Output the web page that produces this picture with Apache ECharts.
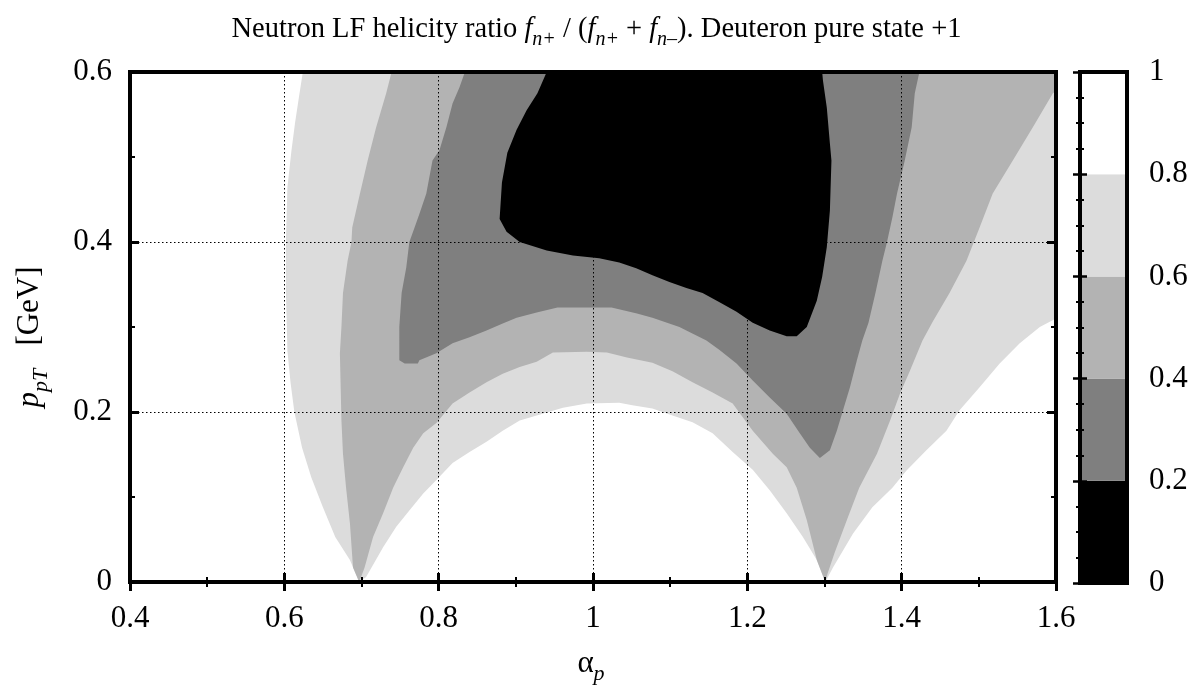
<!DOCTYPE html>
<html>
<head>
<meta charset="utf-8">
<script src="https://cdn.jsdelivr.net/npm/echarts@6/dist/echarts.min.js"></script>
<style>html,body{margin:0;padding:0;background:#fff}#c{width:1193px;height:686px}</style>
</head>
<body>
<div id="c"></div>
<script>
// ---- data ----
const levelBounds = [0, 0.2, 0.4, 0.6, 0.8, 1];
const levelColors = ['#000000', '#7f7f7f', '#b3b3b3', '#dcdcdc', '#ffffff'];

// region where ratio < 0.8 (light gray and darker)
const contour08 = [[0.624,0.600],[0.619,0.571],[0.614,0.541],[0.609,0.506],[0.604,0.464],[0.602,0.400],[0.602,0.343],[0.604,0.272],[0.608,0.235],[0.613,0.200],[0.623,0.158],[0.635,0.123],[0.650,0.088],[0.666,0.053],[0.685,0.026],[0.697,0.000],
[0.706,0.006],[0.728,0.041],[0.745,0.065],[0.762,0.084],[0.780,0.104],[0.797,0.120],[0.818,0.140],[0.840,0.153],[0.862,0.165],[0.883,0.178],[0.905,0.190],[0.927,0.196],[0.961,0.205],[0.992,0.210],[1.034,0.211],[1.051,0.208],[1.077,0.204],[1.103,0.196],[1.129,0.188],[1.155,0.175],[1.181,0.153],[1.207,0.132],[1.229,0.108],[1.251,0.081],[1.272,0.053],[1.290,0.026],[1.301,0.000],
[1.311,0.017],[1.337,0.057],[1.362,0.088],[1.388,0.111],[1.406,0.131],[1.432,0.155],[1.458,0.178],[1.475,0.202],[1.501,0.229],[1.527,0.257],[1.553,0.281],[1.579,0.300],[1.600,0.310],[1.600,0.600]];

// region where ratio < 0.6
const contour06 = [[0.739,0.600],[0.732,0.575],[0.719,0.535],[0.708,0.496],[0.698,0.457],[0.688,0.417],[0.687,0.400],[0.682,0.378],[0.676,0.340],[0.674,0.300],[0.672,0.269],[0.674,0.190],[0.676,0.151],[0.680,0.111],[0.685,0.069],[0.689,0.017],[0.697,0.000],
[0.704,0.017],[0.715,0.053],[0.728,0.081],[0.741,0.111],[0.754,0.135],[0.767,0.158],[0.780,0.175],[0.797,0.187],[0.818,0.210],[0.840,0.223],[0.862,0.235],[0.883,0.245],[0.905,0.253],[0.927,0.259],[0.948,0.270],[0.992,0.271],[1.018,0.270],[1.044,0.264],[1.077,0.258],[1.103,0.248],[1.129,0.235],[1.155,0.223],[1.181,0.210],[1.207,0.178],[1.233,0.151],[1.251,0.135],[1.264,0.111],[1.277,0.073],[1.290,0.026],[1.301,0.000],
[1.304,0.010],[1.313,0.034],[1.329,0.073],[1.345,0.111],[1.368,0.151],[1.385,0.190],[1.398,0.222],[1.411,0.249],[1.427,0.284],[1.440,0.306],[1.462,0.340],[1.484,0.378],[1.501,0.417],[1.518,0.457],[1.544,0.496],[1.570,0.535],[1.596,0.575],[1.600,0.578],[1.600,0.600]];

// region where ratio < 0.4
const contour04 = [[0.834,0.600],[0.827,0.582],[0.818,0.563],[0.810,0.535],[0.801,0.508],[0.792,0.496],[0.784,0.457],[0.775,0.433],[0.766,0.410],[0.762,0.400],[0.758,0.370],[0.752,0.340],[0.749,0.300],[0.749,0.261],[0.756,0.257],[0.773,0.257],[0.775,0.261],[0.797,0.269],[0.818,0.281],[0.840,0.288],[0.862,0.296],[0.883,0.304],[0.901,0.311],[0.927,0.317],[0.954,0.323],[1.024,0.323],[1.057,0.316],[1.077,0.311],[1.112,0.300],[1.121,0.296],[1.147,0.284],[1.164,0.273],[1.186,0.257],[1.207,0.237],[1.229,0.217],[1.251,0.198],[1.268,0.175],[1.281,0.158],[1.294,0.146],[1.307,0.155],[1.316,0.178],[1.324,0.202],[1.333,0.229],[1.342,0.261],[1.349,0.284],[1.357,0.305],[1.366,0.340],[1.375,0.378],[1.381,0.400],[1.388,0.429],[1.394,0.457],[1.404,0.496],[1.413,0.535],[1.417,0.575],[1.423,0.600]];

// region where ratio < 0.2
const contour02 = [[0.940,0.600],[0.928,0.575],[0.914,0.555],[0.901,0.532],[0.889,0.505],[0.882,0.470],[0.879,0.427],[0.888,0.412],[0.905,0.400],[0.940,0.390],[0.974,0.384],[1.008,0.381],[1.034,0.376],[1.056,0.369],[1.077,0.361],[1.099,0.353],[1.121,0.346],[1.142,0.340],[1.164,0.329],[1.186,0.318],[1.207,0.305],[1.229,0.296],[1.251,0.289],[1.264,0.289],[1.277,0.300],[1.290,0.331],[1.297,0.359],[1.303,0.394],[1.307,0.437],[1.309,0.496],[1.307,0.516],[1.303,0.558],[1.298,0.590],[1.297,0.600]];

const contours = [contour08, contour06, contour04, contour02];
const contourColors = [levelColors[3], levelColors[2], levelColors[1], levelColors[0]];

// ---- chart ----
const FONT = 'Liberation Serif';
const chart = echarts.init(document.getElementById('c'), null, {renderer: 'canvas'});

function polySeries(pts, color) {
  return {
    type: 'custom', xAxisIndex: 0, yAxisIndex: 0, z: 1, silent: true, clip: true,
    data: pts,
    renderItem: function (params, api) {
      if (params.dataIndex !== 0) return null;
      return {
        type: 'polygon',
        shape: {points: pts.map(p => api.coord(p))},
        style: {fill: color, stroke: null}
      };
    }
  };
}

const tickMajor = {show: true, inside: true, length: 9, lineStyle: {color: '#000', width: 3}};
const tickMinor = {show: true, splitNumber: 2, length: 5, lineStyle: {color: '#000', width: 2}};
const labelStyle = {color: '#000', fontFamily: FONT, fontSize: 31, showMinLabel: true, showMaxLabel: true};
const gridLine = {show: true, lineStyle: {type: [1.5, 2.5], color: '#000', width: 1}};

const bandData = levelColors.map((c, i) => [levelBounds[i], levelBounds[i + 1], i]);

const option = {
  animation: false,
  backgroundColor: '#fff',
  title: {
    left: 'center', top: 5,
    text: 'Neutron LF helicity ratio {i|f}{s|n+} / ({i|f}{s|n+} + {i|f}{s|n\u2013}). Deuteron pure state +1',
    textStyle: {
      fontFamily: FONT, fontSize: 28.5, fontWeight: 'normal', color: '#000', lineHeight: 40,
      rich: {
        i: {fontFamily: FONT, fontSize: 28.5, fontStyle: 'italic', color: '#000', lineHeight: 40},
        s: {fontFamily: FONT, fontSize: 20, fontStyle: 'italic', color: '#000', lineHeight: 20, verticalAlign: 'bottom'}
      }
    }
  },
  grid: [
    {left: 130, top: 72, width: 926, height: 510, show: true, borderColor: '#000', borderWidth: 4, z: 4, outerBoundsMode: 'none', containLabel: false},
    {left: 1080, top: 72, width: 47, height: 511, show: true, borderColor: '#000', borderWidth: 4, z: 4, outerBoundsMode: 'none', containLabel: false}
  ],
  xAxis: [
    {gridIndex: 0, type: 'value', min: 0.4, max: 1.6, interval: 0.2, position: 'bottom', z: 3,
      axisLine: {show: false}, axisTick: tickMajor, minorTick: tickMinor,
      axisLabel: Object.assign({margin: 21}, labelStyle), splitLine: gridLine},
    {gridIndex: 0, type: 'value', min: 0.4, max: 1.6, interval: 0.2, position: 'top', z: 3,
      axisLine: {show: false}, axisTick: tickMajor, minorTick: tickMinor,
      axisLabel: {show: false}, splitLine: {show: false}},
    {gridIndex: 1, type: 'value', min: 0, max: 1, show: false}
  ],
  yAxis: [
    {gridIndex: 0, type: 'value', min: 0, max: 0.6, interval: 0.2, position: 'left', z: 3,
      axisLine: {show: false}, axisTick: tickMajor, minorTick: tickMinor,
      axisLabel: Object.assign({margin: 18}, labelStyle), splitLine: gridLine},
    {gridIndex: 0, type: 'value', min: 0, max: 0.6, interval: 0.2, position: 'right', z: 3,
      axisLine: {show: false}, axisTick: tickMajor, minorTick: tickMinor,
      axisLabel: {show: false}, splitLine: {show: false}},
    {gridIndex: 1, type: 'value', min: 0, max: 1, interval: 0.2, position: 'right', z: 3,
      axisLine: {show: false},
      axisTick: {show: true, inside: true, length: 7, lineStyle: {color: '#000', width: 2.5}},
      minorTick: {show: true, splitNumber: 4, length: 4, lineStyle: {color: '#000', width: 2}},
      axisLabel: Object.assign({margin: 22}, labelStyle), splitLine: {show: false}},
    {gridIndex: 1, type: 'value', min: 0, max: 1, interval: 0.2, position: 'left', z: 3,
      axisLine: {show: false},
      axisTick: {show: true, inside: true, length: 7, lineStyle: {color: '#000', width: 2.5}},
      minorTick: {show: true, splitNumber: 4, length: 4, lineStyle: {color: '#000', width: 2}},
      axisLabel: {show: false}, splitLine: {show: false}}
  ],
  graphic: [
    {type: 'text', x: 30, y: 337, rotation: Math.PI / 2, z: 10,
      style: {text: '{i|p}{s|pT}   [GeV]', fontFamily: FONT, fontSize: 31, fill: '#000', align: 'center', verticalAlign: 'middle', lineHeight: 44,
        rich: {
          i: {fontFamily: FONT, fontSize: 31, fontStyle: 'italic', fill: '#000', lineHeight: 44},
          s: {fontFamily: FONT, fontSize: 22, fontStyle: 'italic', fill: '#000', lineHeight: 22, verticalAlign: 'bottom'}
        }}},
    {type: 'text', x: 591, y: 664, z: 10,
      style: {text: '\u03b1{s|p}', fontFamily: FONT, fontSize: 31, fill: '#000', align: 'center', verticalAlign: 'middle', lineHeight: 42,
        rich: {
          s: {fontFamily: FONT, fontSize: 22, fontStyle: 'italic', fill: '#000', lineHeight: 22, verticalAlign: 'bottom'}
        }}}
  ],
  series: contours.map((pts, i) => polySeries(pts, contourColors[i])).concat([{
    type: 'custom', xAxisIndex: 2, yAxisIndex: 2, z: 1, silent: true,
    data: bandData,
    renderItem: function (params, api) {
      const p1 = api.coord([0, api.value(1)]);
      const p2 = api.coord([1, api.value(0)]);
      return {type: 'rect', shape: {x: p1[0], y: p1[1], width: p2[0] - p1[0], height: p2[1] - p1[1]},
        style: {fill: levelColors[api.value(2)], stroke: null}};
    }
  }])
};
chart.setOption(option);
</script>
</body>
</html>
